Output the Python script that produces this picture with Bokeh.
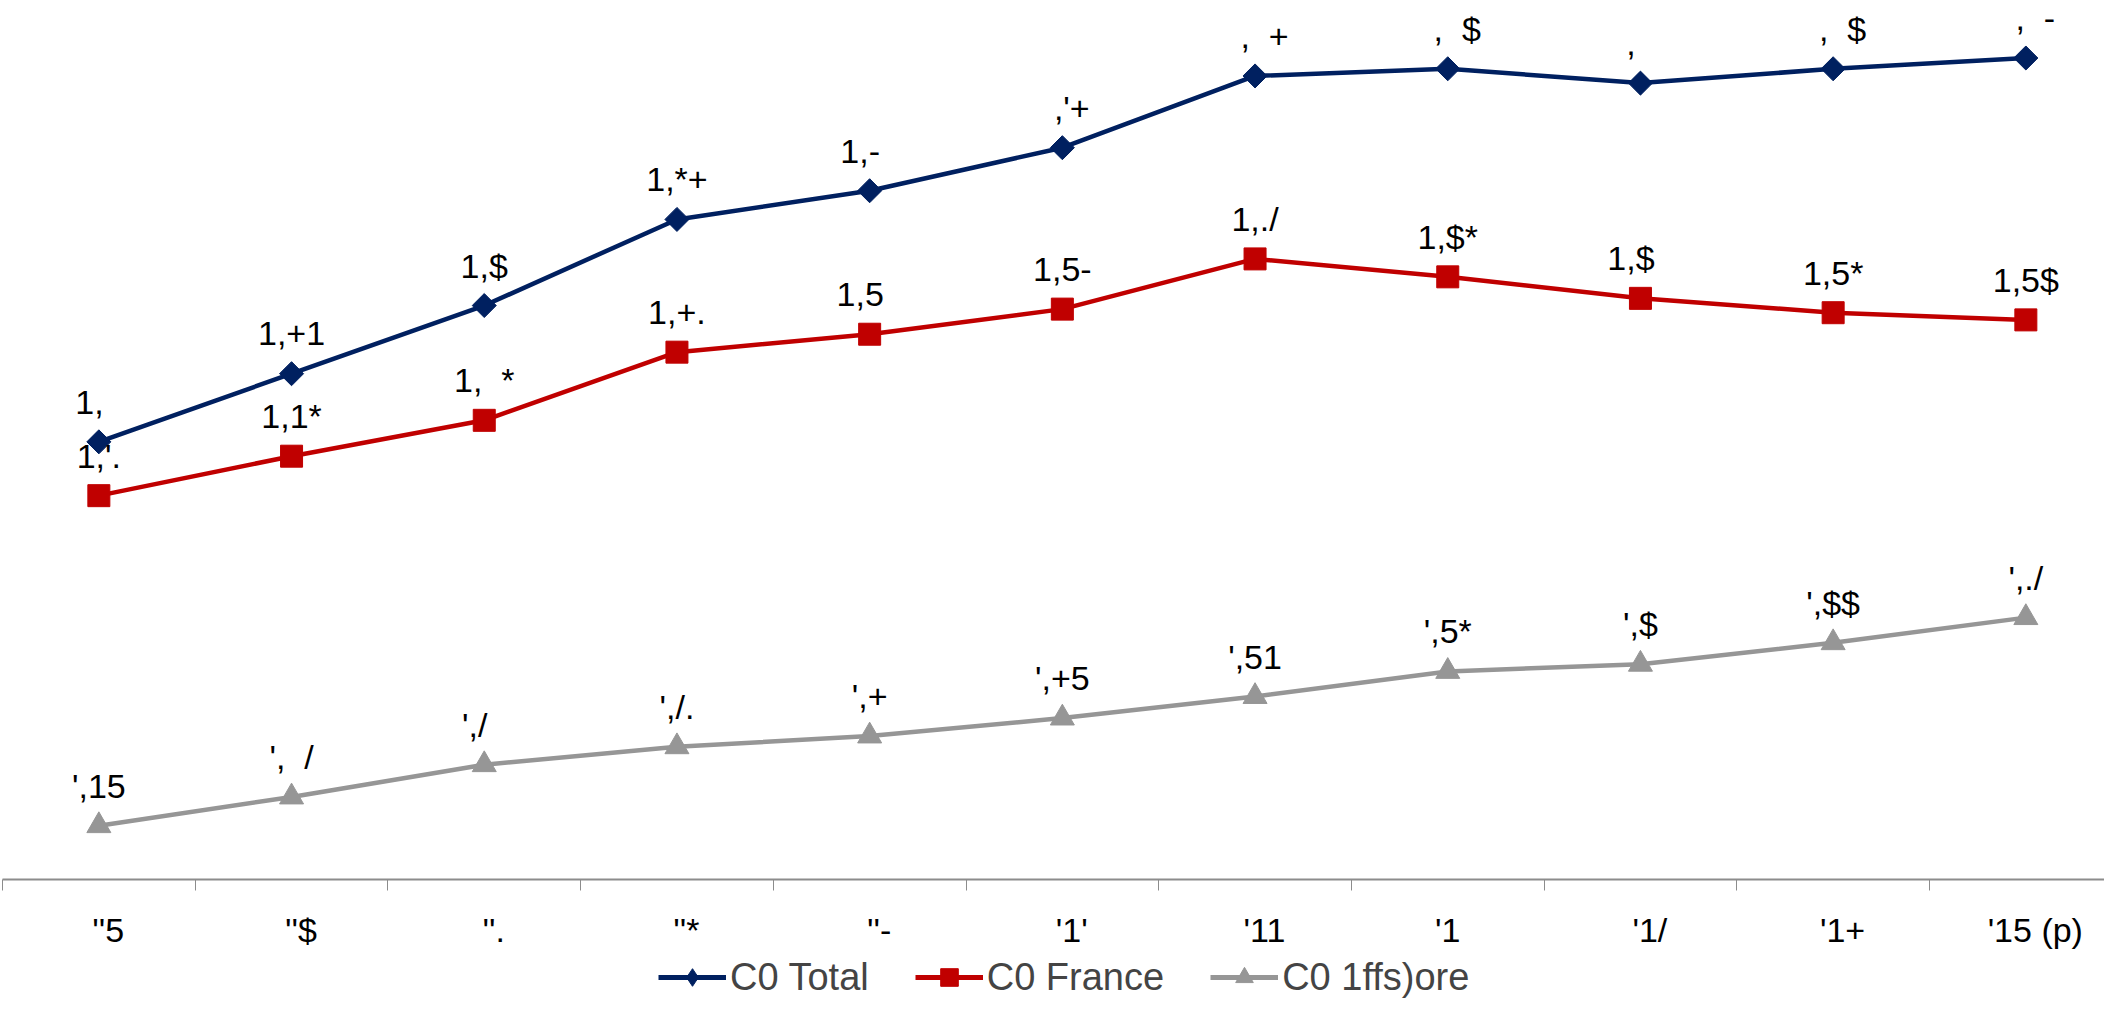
from bokeh.plotting import figure
from bokeh.layouts import column
from bokeh.models import ColumnDataSource, Range1d, FixedTicker, Legend, LegendItem
from bokeh.core.properties import value
from bokeh.embed import file_html
from bokeh.resources import INLINE
import math

B = "\u00a0\u00a0"  # blank glyph (digit width)

years = [B + "''5", B + "''$", B + "''.", B + "''*", B + "''-", B + "'1'",
         B + "'11", B + "'1" + B, B + "'1/", B + "'1+", B + "'15 (p)"]

total = [1.22, 1.41, 1.60, 1.84, 1.92, 2.04, 2.24, 2.26, 2.22, 2.26, 2.29]
france = [1.07, 1.18, 1.28, 1.47, 1.52, 1.59, 1.73, 1.68, 1.62, 1.58, 1.56]
offshore = [0.15, 0.23, 0.32, 0.37, 0.40, 0.45, 0.51, 0.58, 0.60, 0.66, 0.73]

total_labels = ["1," + B, "1,+1", "1,$", "1,*+", "1,-" + B, B + ",'+", B + "," + B + "+",
                B + "," + B + "$", B + "," + B + B, B + "," + B + "$", B + "," + B + "-"]
france_labels = ["1,'.", "1,1*", "1," + B + "*", "1,+.", "1,5" + B, "1,5-", "1,./",
                 "1,$*", "1,$" + B, "1,5*", "1,5$"]
offshore_labels = ["',15", "'," + B + "/", "',/" + B, "',/.", "',+", "',+5", "',51",
                   "',5*", "',$", "',$$", "',./"]

legend_labels = ["C0 Total", "C0 France", "C0 1ffs)ore"]

NAVY = "#002060"
RED = "#C00000"
GRAY = "#969696"
FONT = "Liberation Sans"

xs = list(range(len(years)))
cat_w = 192.7
frame_w = 2102
top_gap = 8
frame_h = 871
main_h = 955
leg_h = 44
W = 2104

p = figure(width=W, height=main_h, output_backend="svg", toolbar_location=None,
           x_range=Range1d(-0.5, -0.5 + frame_w / cat_w), y_range=Range1d(0, 2.428),
           y_axis_location=None, min_border_left=2, min_border_right=0,
           min_border_top=top_gap, min_border_bottom=main_h - frame_h - top_gap)
p.outline_line_color = None
p.xgrid.visible = False
p.ygrid.visible = False

ax = p.xaxis[0]
ax.ticker = FixedTicker(ticks=xs, minor_ticks=[i - 0.5 for i in range(len(years) + 1)])
ax.major_label_overrides = {i: years[i] for i in xs}
ax.major_tick_out = 0
ax.major_tick_in = 0
ax.minor_tick_out = 11
ax.minor_tick_in = 0
ax.minor_tick_line_color = "#8c8c8c"
ax.minor_tick_line_width = 1
ax.axis_line_color = "#8c8c8c"
ax.axis_line_width = 2
ax.major_label_text_font = FONT
ax.major_label_text_font_size = "34px"
ax.major_label_text_color = "black"
ax.major_label_standoff = 20

# legend strip: same series, y-range kept away from the data so only the legend shows
q = figure(width=W, height=leg_h, output_backend="svg", toolbar_location=None,
           x_range=Range1d(-0.5, -0.5 + frame_w / cat_w), y_range=Range1d(10, 11),
           x_axis_location=None, y_axis_location=None, min_border_left=2,
           min_border_right=0, min_border_top=0, min_border_bottom=0)
q.outline_line_color = None
q.xgrid.visible = False
q.ygrid.visible = False

series = [
    (total, total_labels, NAVY, "square", 17, math.pi / 4, "diamond"),
    (france, france_labels, RED, "square", 22, 0, "square"),
    (offshore, offshore_labels, GRAY, "triangle", 24, 0, "triangle"),
]

items = []
for i, (vals, labs, col, mk, sz, ang, legmk) in enumerate(series):
    src = ColumnDataSource(dict(x=xs, y=vals, lab=labs))
    p.line("x", "y", source=src, line_color=col, line_width=4.5)
    p.scatter("x", "y", source=src, marker=mk, size=sz, angle=ang,
              fill_color=col, line_color=col)
    p.text("x", "y", text="lab", source=src, text_align="center", text_baseline="middle",
           y_offset=-40, text_font=value(FONT), text_font_size="34px", text_color="black")
    lr = q.line("x", "y", source=src, line_color=col, line_width=5)
    sr = q.scatter("x", "y", source=src, marker=legmk, size=sz,
                   fill_color=col, line_color=col)
    items.append(LegendItem(label=legend_labels[i], renderers=[lr, sr]))

legend = Legend(items=items, orientation="horizontal", location=(656, 0),
                label_text_font=FONT, label_text_font_size="38px",
                glyph_width=68, glyph_height=44, label_standoff=4, spacing=46,
                padding=0, margin=0, border_line_color=None, label_height=40,
                background_fill_alpha=0)
q.add_layout(legend)

open("out.html", "w").write(file_html(column(p, q, spacing=0), INLINE))
